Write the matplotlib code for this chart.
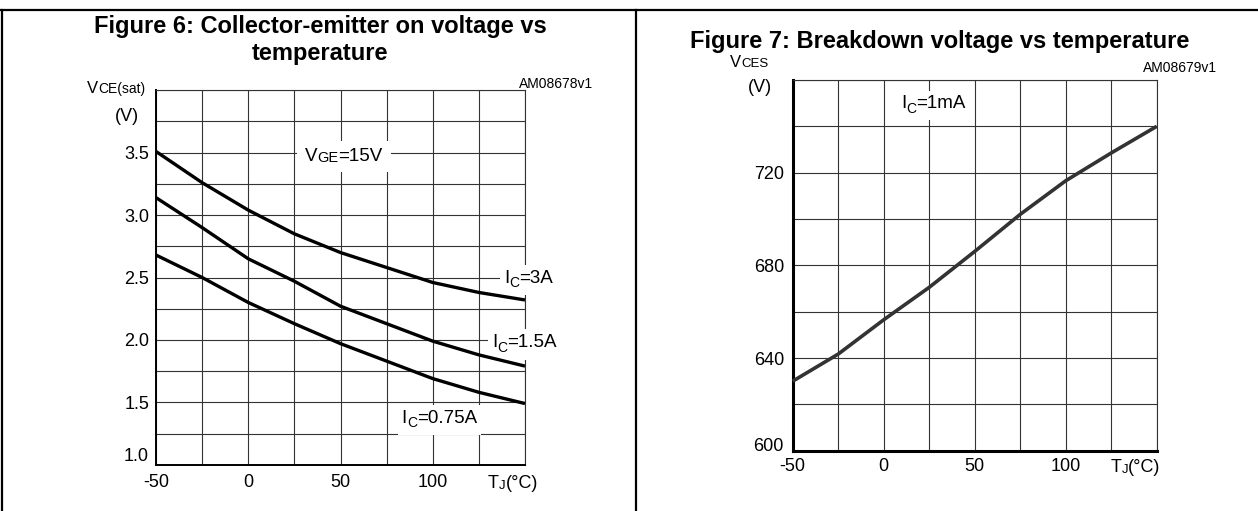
import matplotlib.pyplot as plt
import numpy as np
from matplotlib.lines import Line2D
from matplotlib.patches import Rectangle
from matplotlib.transforms import Bbox

plt.rcParams["font.family"] = ["Liberation Sans", "DejaVu Sans"]

W, H = 1258, 511  # output size in pixels (dpi 100)

# Figure 6: collector-emitter on voltage (V) vs junction temperature (degC)
temp_c = [-50, -25, 0, 25, 50, 75, 100, 125, 150]
vce_ic_3a = [3.51, 3.26, 3.04, 2.85, 2.70, 2.58, 2.46, 2.38, 2.32]
vce_ic_1p5a = [3.14, 2.90, 2.65, 2.47, 2.27, 2.13, 1.99, 1.88, 1.79]
vce_ic_0p75a = [2.68, 2.50, 2.30, 2.13, 1.97, 1.83, 1.69, 1.58, 1.49]

# Figure 7: breakdown voltage (V) vs junction temperature (degC)
vces_ic_1ma = [630, 641.7, 656.5, 670.5, 686, 702, 716.5, 728.5, 740]

GRID = "#333333"
TICK_SIZE = 13


def px(x, y):
    """Pixel position (from top-left) -> figure fraction."""
    return x / W, 1 - y / H


def add_axes_px(fig, left, top, right, bottom):
    return fig.add_axes([left / W, 1 - bottom / H, (right - left) / W, (bottom - top) / H])


def rich_text(ax, x, y, parts, transform):
    """Write pieces side by side. parts: (text, fontsize, rise in points)."""
    text, size, rise = parts[0]
    prev = ax.text(x, y, text, fontsize=size, transform=transform,
                   ha="left", va="baseline", zorder=4)
    pieces = [prev]
    prev_rise = rise
    for text, size, rise in parts[1:]:
        prev = ax.annotate(text, xy=(1, 0), xycoords=prev,
                           xytext=(0, rise - prev_rise), textcoords="offset points",
                           fontsize=size, ha="left", va="bottom",
                           zorder=4, annotation_clip=False)
        pieces.append(prev)
        prev_rise = rise
    return pieces


def add_backing(fig, ax, pieces, pad_x, pad_y):
    """White box behind a label so that grid lines stop at it (call after a draw)."""
    bb = Bbox.union([p.get_window_extent() for p in pieces])
    inv = fig.transFigure.inverted()
    x0, y0 = inv.transform((bb.x0 - pad_x, bb.y0 - pad_y))
    x1, y1 = inv.transform((bb.x1 + pad_x, bb.y1 + pad_y))
    ax.add_patch(Rectangle((x0, y0), x1 - x0, y1 - y0, transform=fig.transFigure,
                           facecolor="white", edgecolor="none", zorder=2.6, clip_on=False))


def style_axes(ax, ylim, ystep, ylabel_step, spine_lw, xpad, ypad):
    ax.set_xlim(-50, 150)
    ax.set_ylim(*ylim)
    xt = np.arange(-50, 151, 25)
    ax.set_xticks(xt, [f"{v:g}" if v % 50 == 0 and v < 150 else "" for v in xt])
    yt = np.arange(ylim[0], ylim[1] + ystep / 2, ystep)
    ax.set_yticks(yt, [(f"{v:.1f}" if isinstance(ystep, float) else f"{v:g}")
                       if abs(v / ylabel_step - round(v / ylabel_step)) < 1e-6 and v < ylim[1]
                       else "" for v in yt])
    ax.tick_params(axis="x", length=0, pad=xpad, labelsize=TICK_SIZE)
    ax.tick_params(axis="y", length=0, pad=ypad, labelsize=TICK_SIZE)
    ax.grid(True, color=GRID, linewidth=0.8)
    for side in ("left", "bottom"):
        ax.spines[side].set_linewidth(spine_lw)
        ax.spines[side].set_color("black")
    for side in ("top", "right"):
        ax.spines[side].set_linewidth(0.8)
        ax.spines[side].set_color(GRID)


fig = plt.figure(figsize=(W / 100, H / 100), dpi=100)

# panel frame
for xs, ys in [([0, W], [10, 10]), ([2, 2], [10, H]), ([636, 636], [10, H])]:
    fig.add_artist(Line2D([x / W for x in xs], [1 - y / H for y in ys],
                          transform=fig.transFigure, color="black", linewidth=1.6))

# ---------------- Figure 6 ----------------
ax1 = add_axes_px(fig, 156, 90.3, 525, 464.7)
style_axes(ax1, (1.0, 4.0), 0.25, 0.5, 1.4, 6.7, 5)
ax1.get_yticklabels()[0].set_verticalalignment("bottom")
for vals in (vce_ic_3a, vce_ic_1p5a, vce_ic_0p75a):
    ax1.plot(temp_c, vals, color="black", linewidth=2.4, clip_on=False,
             solid_capstyle="butt", zorder=3)

fig.text(*px(320, 33), "Figure 6: Collector-emitter on voltage vs", ha="center",
         va="baseline", fontsize=17, fontweight="bold")
fig.text(*px(320, 60), "temperature", ha="center", va="baseline",
         fontsize=17, fontweight="bold")
fig.text(*px(593, 88), "AM08678v1", ha="right", va="baseline", fontsize=10)

rich_text(ax1, *px(87, 93), [("V", 12, 0), ("CE(sat)", 10, 0)], fig.transFigure)
rich_text(ax1, *px(115, 121), [("(V)", 13, 0)], fig.transFigure)
rich_text(ax1, *px(488, 488), [("T", 13, 0), ("J", 9.5, 0), ("(°C)", 13, 0)], fig.transFigure)

vge_label = rich_text(ax1, 30.7, 3.43, [("V", 13.5, 0), ("GE", 10.5, 0), ("=15V", 13.5, 0)], ax1.transData)
ic_labels = [
    rich_text(ax1, 138.6, 2.455, [("I", 13.5, 0), ("C", 10, -2.4), ("=3A", 13.5, 0)], ax1.transData),
    rich_text(ax1, 132.2, 1.94, [("I", 13.5, 0), ("C", 10, -2.4), ("=1.5A", 13.5, 0)], ax1.transData),
    rich_text(ax1, 83.1, 1.333, [("I", 13.5, 0), ("C", 10, -2.4), ("=0.75A", 13.5, 0)], ax1.transData),
]

# ---------------- Figure 7 ----------------
ax2 = add_axes_px(fig, 792.7, 80, 1156.7, 450.7)
style_axes(ax2, (600, 760), 20, 40, 2.2, 5.3, 6.3)
ax2.get_yticklabels()[0].set_verticalalignment("baseline")
ax2.plot(temp_c, vces_ic_1ma, color="#333333", linewidth=2.6, clip_on=False,
         solid_capstyle="butt", zorder=3)

fig.text(*px(940, 48), "Figure 7: Breakdown voltage vs temperature", ha="center",
         va="baseline", fontsize=17, fontweight="bold")
fig.text(*px(1217, 72), "AM08679v1", ha="right", va="baseline", fontsize=10)

rich_text(ax2, *px(730, 67), [("V", 12, 0), ("CES", 9.5, 0)], fig.transFigure)
rich_text(ax2, *px(748, 92), [("(V)", 13, 0)], fig.transFigure)
rich_text(ax2, *px(1110.5, 472), [("T", 13, 0), ("J", 9.5, 0), ("(°C)", 13, 0)], fig.transFigure)
ic_1ma_label = rich_text(ax2, 9.7, 747.7, [("I", 13.5, 0), ("C", 10, -2.4), ("=1mA", 13.5, 0)], ax2.transData)

# label extents are known only after a draw
fig.canvas.draw()
add_backing(fig, ax1, vge_label, 8, 7)
for pieces in ic_labels:
    add_backing(fig, ax1, pieces, 4, 5)
add_backing(fig, ax2, ic_1ma_label, 4, 4)

fig.savefig("out.png", dpi=100)
